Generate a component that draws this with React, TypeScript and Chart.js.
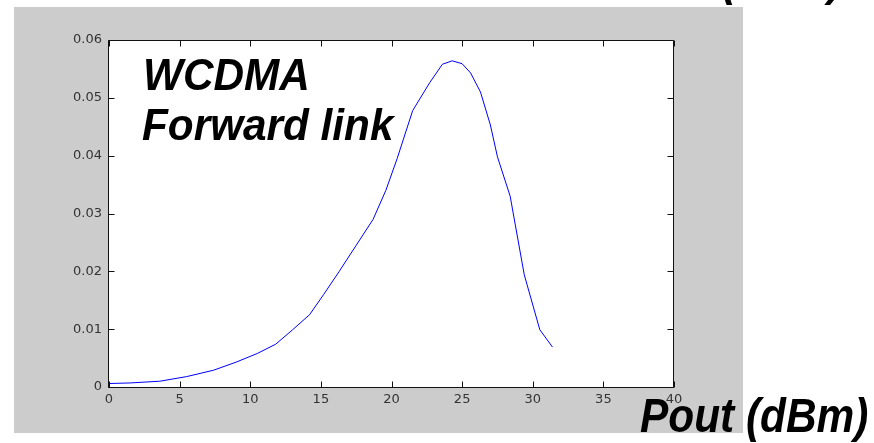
import React, { useEffect, useRef } from 'react';
import { Chart, registerables } from 'chart.js';

Chart.register(...registerables);

// Output power (dBm)
const pout = [0, 1.5, 3.6, 5.5, 7.4, 9.0, 10.5, 11.8, 13.0, 14.2, 15.2, 16.3, 17.5, 18.7, 19.6, 20.4, 21.5, 22.7, 23.6, 24.3, 25.0, 25.6, 26.3, 27.0, 27.5, 28.4, 29.4, 30.5, 31.4];
// Probability density
const density = [0.0006, 0.0007, 0.001, 0.0018, 0.0029, 0.0043, 0.0058, 0.0074, 0.0099, 0.0125, 0.016, 0.02, 0.0245, 0.029, 0.034, 0.0395, 0.0478, 0.0526, 0.0558, 0.0564, 0.0559, 0.0543, 0.051, 0.0453, 0.0398, 0.033, 0.0194, 0.0099, 0.0069];

const xTickValues = [0, 5, 10, 15, 20, 25, 30, 35, 40];
const yTickValues = [0, 0.01, 0.02, 0.03, 0.04, 0.05, 0.06];
const annotationLines = ['WCDMA', 'Forward link'];
const xTitle = 'Pout (dBm)';
const yTitle = 'PDF (1/dB)';

function drawScaledText(ctx: CanvasRenderingContext2D, text: string, x: number, y: number, size: number, sx: number, align: CanvasTextAlign = 'left') {
  ctx.save();
  ctx.translate(x, y);
  ctx.scale(sx, 1);
  ctx.font = `italic bold ${size}px "Liberation Sans", Arial, sans-serif`;
  ctx.fillStyle = '#000';
  ctx.textAlign = align;
  ctx.textBaseline = 'alphabetic';
  ctx.fillText(text, 0, 0);
  ctx.restore();
}

const decor = {
  id: 'decor',
  beforeDraw(chart: any) {
    const ctx = chart.ctx as CanvasRenderingContext2D;
    const a = chart.chartArea;
    ctx.save();
    ctx.fillStyle = '#ffffff';
    ctx.fillRect(0, 0, chart.width, chart.height);
    ctx.fillStyle = '#cccccc';
    ctx.fillRect(14, 7, 729, 426);
    ctx.fillStyle = '#ffffff';
    ctx.fillRect(a.left, a.top, a.right - a.left, a.bottom - a.top);
    ctx.restore();
  },
  afterDraw(chart: any) {
    const ctx = chart.ctx as CanvasRenderingContext2D;
    const a = chart.chartArea;
    const xs = chart.scales.x;
    const ys = chart.scales.y;
    ctx.save();
    ctx.strokeStyle = '#111';
    ctx.lineWidth = 1;
    const L = Math.round(a.left) - 0.5;
    const R = Math.round(a.right) - 0.5;
    const T = Math.round(a.top) + 0.5;
    const B = Math.round(a.bottom) + 0.5;
    ctx.beginPath();
    ctx.rect(L, T, R - L, B - T);
    const tl = 6;
    xTickValues.forEach((v) => {
      const px = Math.round(xs.getPixelForValue(v)) + 0.5;
      ctx.moveTo(px, B);
      ctx.lineTo(px, B - tl);
      ctx.moveTo(px, T);
      ctx.lineTo(px, T + tl);
    });
    yTickValues.forEach((v) => {
      const py = Math.round(ys.getPixelForValue(v)) + 0.5;
      ctx.moveTo(L, py);
      ctx.lineTo(L + tl, py);
      ctx.moveTo(R, py);
      ctx.lineTo(R - tl, py);
    });
    ctx.stroke();
    ctx.restore();

    drawScaledText(ctx, annotationLines[0], 143, 90, 45, 0.94);
    drawScaledText(ctx, annotationLines[1], 142, 140, 45, 0.94);
    drawScaledText(ctx, xTitle, 640, 432, 49, 0.865);
    drawScaledText(ctx, yTitle, 842, -5, 49, 0.865, 'right');
  },
};

export default function App() {
  const ref = useRef<HTMLCanvasElement | null>(null);
  useEffect(() => {
    if (!ref.current) return;
    const chart = new Chart(ref.current, {
      type: 'line',
      data: {
        datasets: [
          {
            data: pout.map((x, i) => ({ x, y: density[i] })),
            borderColor: '#0000ff',
            borderWidth: 1,
            pointRadius: 0,
            tension: 0,
            fill: false,
          },
        ],
      },
      options: {
        responsive: false,
        animation: false,
        devicePixelRatio: 1,
        layout: { padding: { left: 0, top: 40, right: 200, bottom: 0 } },
        plugins: { legend: { display: false }, tooltip: { enabled: false } },
        scales: {
          x: {
            type: 'linear',
            min: 0,
            max: 40,
            afterFit: (s: any) => { s.height = 56; },
            afterBuildTicks: (s: any) => { s.ticks = xTickValues.map((v) => ({ value: v })); },
            grid: { display: false, drawTicks: false },
            border: { display: false },
            ticks: {
              autoSkip: false,
              maxRotation: 0,
              padding: 5,
              color: '#333',
              font: { family: '"DejaVu Sans", sans-serif', size: 13 },
              callback: (v: any) => String(v),
            },
          },
          y: {
            type: 'linear',
            min: 0,
            max: 0.06,
            afterFit: (s: any) => { s.width = 109; },
            afterBuildTicks: (s: any) => { s.ticks = yTickValues.map((v) => ({ value: v })); },
            grid: { display: false, drawTicks: false },
            border: { display: false },
            ticks: {
              autoSkip: false,
              padding: 7,
              color: '#333',
              font: { family: '"DejaVu Sans", sans-serif', size: 13 },
              callback: (v: any) => (Number(v) === 0 ? '0' : Number(v).toFixed(2)),
            },
          },
        },
      },
      plugins: [decor],
    });
    return () => chart.destroy();
  }, []);
  return (
    <div style={{ position: 'absolute', left: 0, top: 0, width: 874, height: 443 }}>
      <canvas ref={ref} width={874} height={443} />
    </div>
  );
}
